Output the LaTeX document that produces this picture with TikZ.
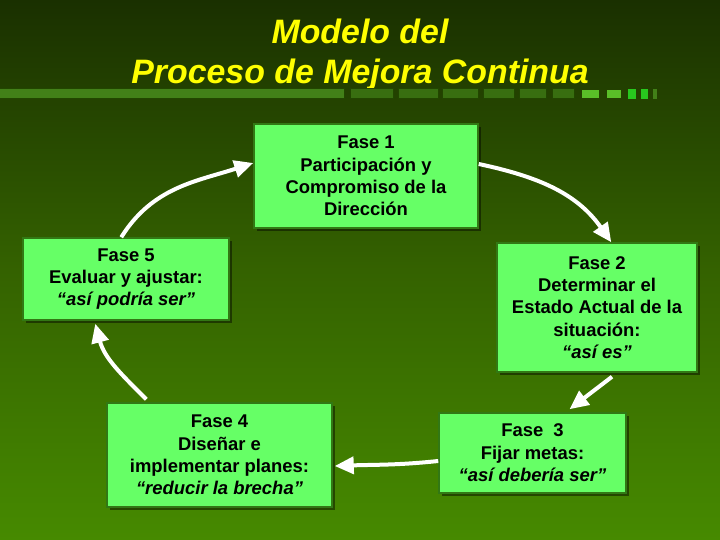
\documentclass[tikz,border=0pt]{standalone}
\usepackage{fontspec}
\setmainfont{Liberation Sans}
\usetikzlibrary{arrows.meta,shadows,calc}
\definecolor{bgtop}{RGB}{26,48,0}
\definecolor{bgmid}{RGB}{52,98,0}
\definecolor{bgbot}{RGB}{70,138,0}
\definecolor{boxfill}{RGB}{102,255,102}
\definecolor{boxline}{RGB}{50,120,20}
\definecolor{barA}{RGB}{66,128,24}
\definecolor{barB}{RGB}{56,110,16}
\definecolor{barEdge}{RGB}{34,70,0}
\definecolor{barC}{RGB}{90,190,40}
\definecolor{barD}{RGB}{40,200,30}
\definecolor{titleyellow}{RGB}{255,255,0}
\tikzset{
  phase/.style={rectangle, fill=boxfill, draw=boxline, line width=1.5bp,
    align=center, inner sep=0pt, font=\fontsize{18.5}{22.5}\selectfont\bfseries,
    drop shadow={shadow xshift=3bp, shadow yshift=-3bp, fill=black, opacity=0.45}},
  flow/.style={draw=white, line width=4bp, -{Triangle[length=19bp,width=17bp]}},
  ttl/.style={text=titleyellow, font=\fontsize{34}{40}\selectfont\bfseries\itshape, anchor=base, inner sep=0pt},
  seg/.style={fill=barB, draw=barEdge, line width=1bp}
}
\begin{document}
\begin{tikzpicture}[x=1bp,y=-1bp]
\useasboundingbox (0,0) rectangle (720,540);
\shade[top color=bgtop, bottom color=bgbot, middle color=bgmid] (0,0) rectangle (720,540);

% title
\node[ttl] (t1) at (360,44) {Modelo del};
\node[ttl] (t2) at (360,84) {Proceso de Mejora Continua};

% decorative bar
\draw[fill=barA, draw=barEdge, line width=1bp] (-2,89) rectangle (344,99);
\foreach \a/\b in {350/393, 398/438, 442/478, 483/514, 519/546, 552/574}
  \draw[seg] (\a,89) rectangle (\b,99);
\fill[barC] (582,90) rectangle (599,98);
\fill[barC] (607,90) rectangle (621,98);
\fill[barD] (628,89) rectangle (636,99);
\fill[barD] (641,89) rectangle (648,99);
\fill[barA] (653,89) rectangle (657,99);

% phases
\node[phase, minimum width=224bp, minimum height=104bp] (f1) at (366,176)
  {Fase 1\\Participación y\\Compromiso de la\\Dirección};
\node[phase, minimum width=206bp, minimum height=82bp] (f5) at (126,279)
  {Fase 5\\Evaluar y ajustar:\\\textit{“así podría ser”}};
\node[phase, minimum width=200bp, minimum height=129bp] (f2) at (597,307.5)
  {Fase 2\\Determinar el\\Estado Actual de la\\situación:\\\textit{“así es”}};
\node[phase, minimum width=225bp, minimum height=104bp] (f4) at (219.5,455)
  {Fase 4\\Diseñar e\\implementar planes:\\\textit{“reducir la brecha”}};
\node[phase, minimum width=187bp, minimum height=80bp] (f3) at (532.5,453)
  {Fase\ \ 3\\Fijar metas:\\\textit{“así debería ser”}};

% arrows
\draw[flow] ([xshift=99bp]f5.north west) to[out=58, in=198] ([yshift=13bp]f1.west);
\draw[flow] ([yshift=12bp]f1.east) to[out=-12, in=125] ([xshift=115bp]f2.north west);
\draw[flow] ([xshift=15bp,yshift=-4bp]f2.south) to ([xshift=37bp,yshift=3bp]f3.north);
\draw[flow] ([yshift=-8bp]f3.west) to[out=186, in=2] ([xshift=2bp,yshift=-11bp]f4.east);
\draw[flow] ([xshift=40bp,yshift=3bp]f4.north west) to[out=135, in=-75] ([xshift=73bp,yshift=-3bp]f5.south west);
\end{tikzpicture}
\end{document}
